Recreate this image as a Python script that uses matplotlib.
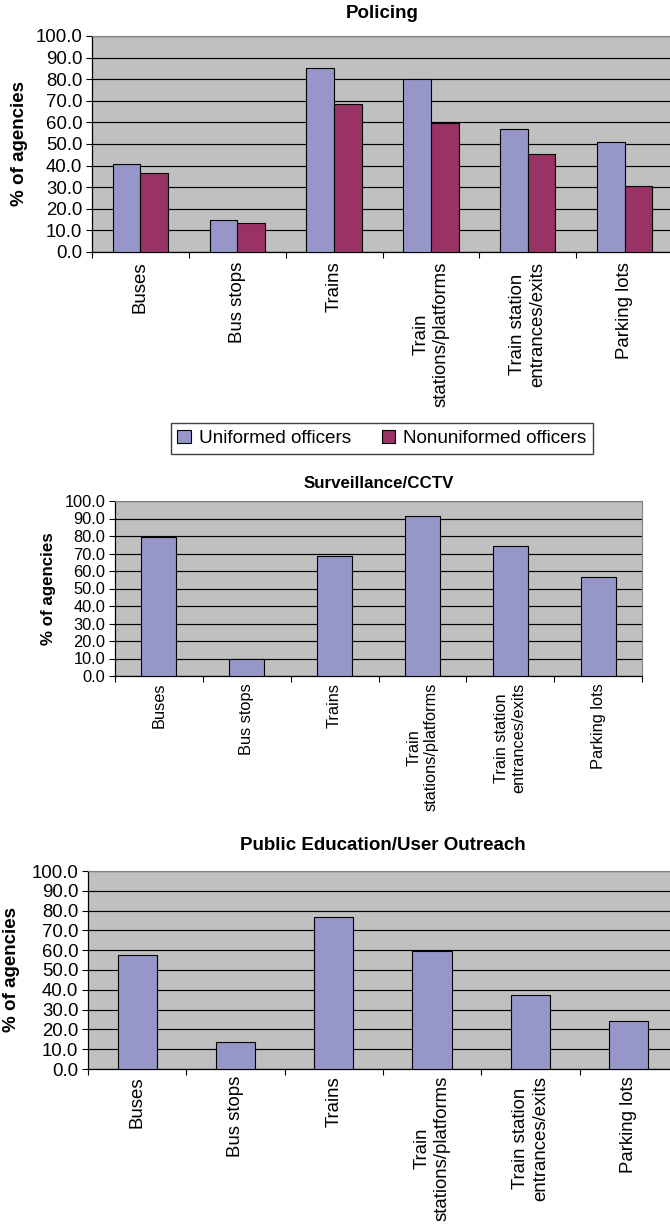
import numpy as np
import matplotlib
matplotlib.use("Agg")
import matplotlib.pyplot as plt

plt.rcParams['font.family'] = ['Liberation Sans', 'DejaVu Sans']

categories = ["Buses", "Bus stops", "Trains", "Train\nstations/platforms",
              "Train station\nentrances/exits", "Parking lots"]
uniformed = [40.7, 14.8, 85.4, 80.1, 57.0, 50.8]
nonuniformed = [36.7, 13.6, 68.4, 59.6, 45.5, 30.4]
surveillance = [79.6, 9.9, 68.4, 91.4, 74.3, 56.4]
outreach = [57.5, 13.6, 76.8, 59.8, 37.5, 24.2]
yticks = np.arange(0, 101, 10)

C_UNI = "#9696C8"
C_NON = "#993366"
BG = "#C0C0C0"

W, H = 670, 1225
fig = plt.figure(figsize=(W / 100, H / 100), dpi=100)


def px_axes(left, right, top, bottom):
    return fig.add_axes([left / W, 1 - bottom / H, (right - left) / W, (bottom - top) / H])


def draw_panel(ax, series, colors, title, title_y, ylab_x, fs, tfs, pad):
    n = len(series)
    width = 1.0 / (n + 1.5)
    x = np.arange(len(categories))
    for k, (vals, col) in enumerate(zip(series, colors)):
        off = (k - (n - 1) / 2) * width
        ax.bar(x + off, vals, width, color=col, edgecolor="black", linewidth=0.8, zorder=3)
    ax.set_xlim(-0.5, len(categories) - 0.5)
    ax.set_ylim(0, 100)
    ax.set_facecolor(BG)
    ax.set_axisbelow(True)
    ax.yaxis.grid(True, color="black", linewidth=0.85)
    ax.set_yticks(yticks)
    ax.set_yticklabels([f"{v:.1f}" for v in yticks], fontsize=fs)
    ax.tick_params(axis="y", length=4.5, width=0.8, pad=2.5)
    ax.set_xticks(x)
    ax.set_xticklabels(categories, rotation=90, fontsize=fs, va="top", ha="center")
    for t in ax.get_xticklabels():
        t.set_multialignment("center")
    ax.tick_params(axis="x", which="major", length=0, pad=pad)
    ax.set_xticks(np.arange(len(categories) + 1) - 0.5, minor=True)
    ax.tick_params(axis="x", which="minor", length=4.5, width=0.8)
    for s in ["top", "right"]:
        ax.spines[s].set_color("#808080")
    for s in ["left", "bottom"]:
        ax.spines[s].set_color("black")
        ax.spines[s].set_linewidth(0.9)
    bb = ax.get_position()
    xc = (bb.x0 + bb.x1) / 2
    fig.text(xc, 1 - title_y / H, title, ha="center", va="center",
             fontsize=tfs, fontweight="bold")
    fig.text(ylab_x / W, (bb.y0 + bb.y1) / 2, "% of agencies", rotation=90,
             ha="center", va="center", fontsize=tfs, fontweight="bold")


ax1 = px_axes(92, 673, 36, 252)
draw_panel(ax1, [uniformed, nonuniformed], [C_UNI, C_NON], "Policing", 14, 20, 13.4, 13.5, 7)

ax2 = px_axes(115, 642, 501, 676)
draw_panel(ax2, [surveillance], [C_UNI], "Surveillance/CCTV", 483, 49, 11.8, 12.2, 5)

ax3 = px_axes(88, 678, 871, 1069)
draw_panel(ax3, [outreach], [C_UNI], "Public Education/User Outreach", 845, 12, 13.4, 13.5, 5)

handles = [plt.Rectangle((0, 0), 1, 1, facecolor=C_UNI, edgecolor="black", linewidth=0.8),
           plt.Rectangle((0, 0), 1, 1, facecolor=C_NON, edgecolor="black", linewidth=0.8)]
leg = fig.legend(handles, ["Uniformed officers", "Nonuniformed officers"], loc="center",
                 bbox_to_anchor=(382 / W, 1 - 438.5 / H), ncol=2, fontsize=13.6,
                 fancybox=False, framealpha=1, edgecolor="#404040",
                 handlelength=0.7, handleheight=0.7, handletextpad=0.45,
                 columnspacing=1.6, borderpad=0.35)
leg.get_frame().set_linewidth(1.0)

fig.savefig("out.png", dpi=100)
